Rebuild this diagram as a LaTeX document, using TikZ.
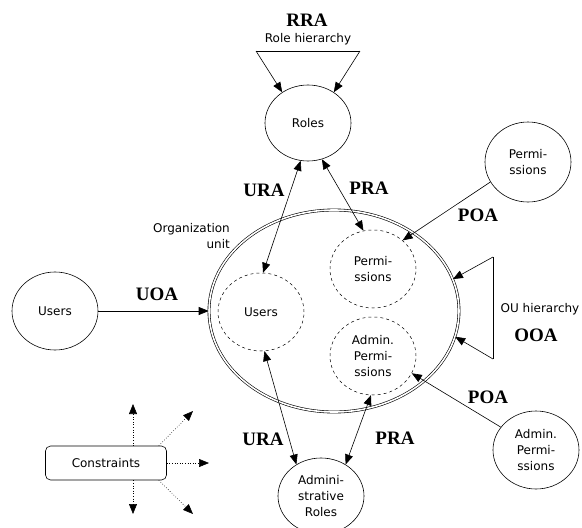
\documentclass[tikz,border=0pt]{standalone}
\usepackage{fontspec}
\setmainfont{DejaVu Sans}
\newfontfamily\relfont{Liberation Serif}
\usetikzlibrary{arrows.meta,shapes.geometric}
\begin{document}
\begin{tikzpicture}[x=1pt,y=-1pt,
  every node/.style={font=\fontsize{12}{16}\selectfont, align=center, inner sep=0pt},
  entity/.style={draw, ellipse, line width=0.6pt, minimum width=86pt, minimum height=78pt},
  member/.style={draw, dashed, ellipse, line width=0.5pt, minimum width=86pt, minimum height=78pt},
  rel/.style={font=\relfont\bfseries\fontsize{19}{21}\selectfont},
  tip/.style={-{Triangle[length=10pt,width=8pt]}, line width=0.6pt},
  bitip/.style={{Triangle[length=10pt,width=8pt]}-{Triangle[length=10pt,width=8pt]}, line width=0.6pt},
  dottip/.style={-{Triangle[length=10pt,width=8pt]}, dotted, line width=0.6pt},
]
\useasboundingbox (0,0) rectangle (582,528);

% organization unit and its members
\node[draw, ellipse, double, double distance=1.6pt, line width=0.6pt,
      minimum width=250pt, minimum height=202pt] (org) at (334,311) {};
\node[anchor=east, align=right] (orglbl) at (230,236.5) {Organization\\unit};
\node[member] (uin) at (261,312) {Users};
\node[member] (pin) at (373,269) {Permi-\\ssions};
\node[member] (ain) at (373,356) {Admin.\\Permi-\\ssions};

% outer entities
\node[entity, minimum height=76pt] (roles) at (308,123) {Roles};
\node[entity, minimum height=80pt] (pout) at (528,162) {Permi-\\ssions};
\node[entity] (uout) at (55,311) {Users};
\node[entity] (aout) at (536,450) {Admin.\\Permi-\\ssions};
\node[entity, minimum height=76pt] (aroles) at (321,496) {Admini-\\strative\\Roles};

% role hierarchy
\node[rel] (rra) at (307,20) {RRA};
\node (rh) at (308,39) {Role hierarchy};
\coordinate (rhl) at (256,51);
\coordinate (rhr) at (360,51);
\draw[line width=0.6pt] (rhl) -- (rhr);
\draw[tip] (rhl) -- (roles.130);
\draw[tip] (rhr) -- (roles.50);

% user and permission assignments
\draw[bitip] (roles.259) -- (uin.87);
\node[rel] (ura1) at (264,190) {URA};
\draw[bitip] (roles.-69) -- (pin.104);
\node[rel] (pra1) at (369,188) {PRA};
\draw[tip] (pout.208) -- (pin.44);
\node[rel] (poa1) at (478,215) {POA};
\draw[tip] (uout.east) -- (org.west);
\node[rel] (uoa) at (157,294) {UOA};

% organization unit hierarchy
\coordinate (out) at (493,257);
\coordinate (oub) at (493,359);
\draw[line width=0.6pt] (out) -- (oub);
\draw[tip] (out) -- (org.15);
\draw[tip] (oub) -- (org.-12);
\node (ouh) at (540,309) {OU hierarchy};
\node[rel] (ooa) at (536,335) {OOA};

% administrative assignments
\draw[bitip] (uin.-85) -- (aroles.128);
\node[rel] (ura2) at (263,439) {URA};
\draw[bitip] (ain.-93) -- (aroles.52);
\node[rel] (pra2) at (395,438) {PRA};
\draw[tip] (aout.147) -- (ain.-24);
\node[rel] (poa2) at (488,397) {POA};

% constraints
\node[draw, rounded corners=5pt, line width=0.6pt, minimum width=121pt, minimum height=34pt]
  (con) at (106,463) {Constraints};
\coordinate (c1) at (133,404);
\coordinate (c2) at (193,411);
\coordinate (c3) at (209,463);
\coordinate (c4) at (193,514);
\coordinate (c5) at (133,514);
\draw[dottip] (con.north -| c1) -- (c1);
\draw[dottip] ([xshift=-8pt]con.north east) -- (c2);
\draw[dottip] (con.east) -- (c3);
\draw[dottip] ([xshift=-8pt]con.south east) -- (c4);
\draw[dottip] (con.south -| c5) -- (c5);
\end{tikzpicture}
\end{document}
